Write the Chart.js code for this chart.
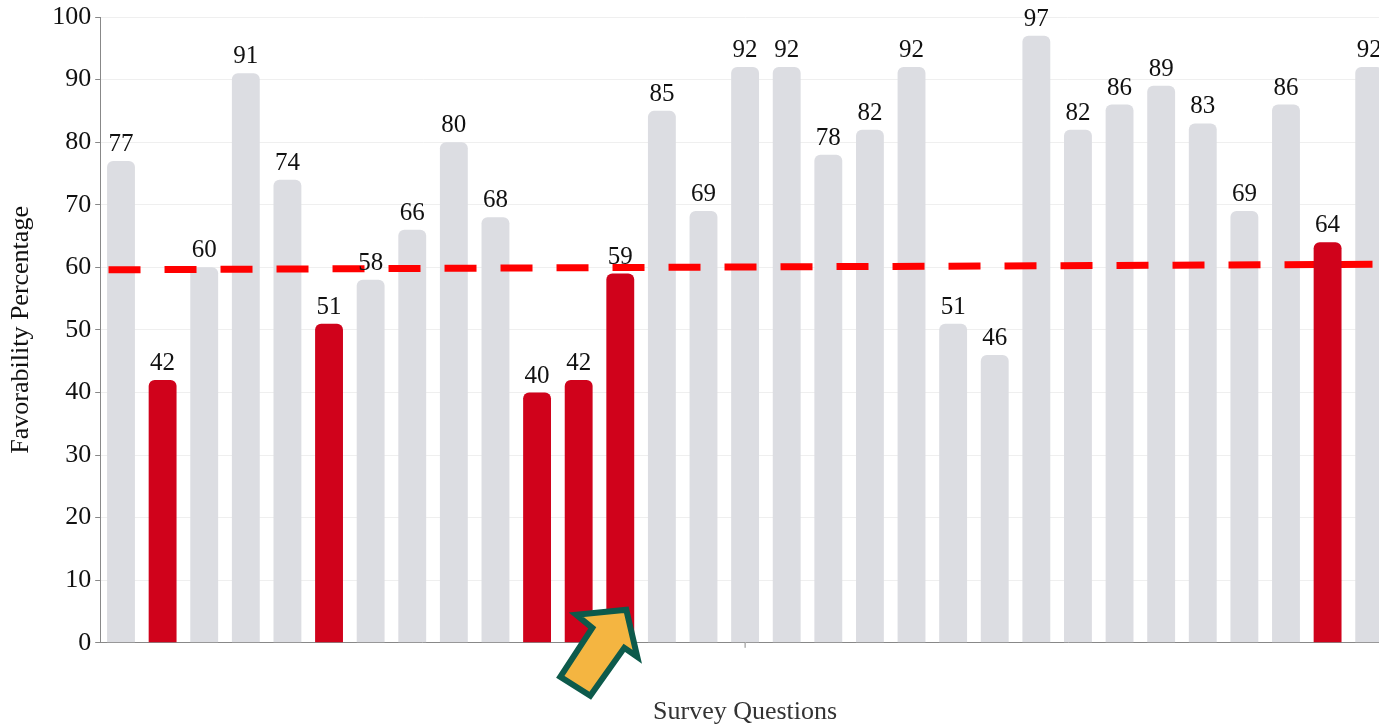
<!DOCTYPE html>
<html>
<head>
<meta charset="utf-8">
<script src="https://cdn.jsdelivr.net/npm/chart.js@4.4.1/dist/chart.umd.min.js"></script>
<style>
  html, body { margin: 0; padding: 0; background: #fff; overflow: hidden; }
  #wrap { width: 1400px; height: 728px; position: relative; }
</style>
</head>
<body>
<div id="wrap"><canvas id="myChart"></canvas></div>
<script>
// survey question scores (favorability %)
const questions = ['Q1','Q2','Q3','Q4','Q5','Q6','Q7','Q8','Q9','Q10','Q11','Q12','Q13','Q14','Q15','Q16',
                   'Q17','Q18','Q19','Q20','Q21','Q22','Q23','Q24','Q25','Q26','Q27','Q28','Q29','Q30','Q31'];
const scores = [77, 42, 60, 91, 74, 51, 58, 66, 80, 68, 40, 42, 59, 85, 69, 92,
                92, 78, 82, 92, 51, 46, 97, 82, 86, 89, 83, 69, 86, 64, 92];
// 1 = highlighted in red
const flagged = [0, 1, 0, 0, 0, 1, 0, 0, 0, 0, 1, 1, 1, 0, 0, 0,
                 0, 0, 0, 0, 0, 0, 0, 0, 0, 0, 0, 0, 0, 1, 0];
// dashed benchmark line (position along the questions, value)
const trendX = [0.2, 31];
const trendY = [59.6, 60.5];
const yTicks = [0, 10, 20, 30, 40, 50, 60, 70, 80, 90, 100];

const arrowIndex = 12; // question the arrow points to

const grayVals = scores.map((v, i) => flagged[i] ? null : v);
const redVals = scores.map((v, i) => flagged[i] ? v : null);

const serif = "'Liberation Serif', 'Times New Roman', serif";

// labels above bars + the arrow + the middle tick on the x axis
const extras = {
    id: 'extras',
    afterDatasetsDraw(chart) {
        const ctx = chart.ctx;
        ctx.save();
        ctx.font = '25px ' + serif;
        ctx.fillStyle = '#111';
        ctx.textAlign = 'center';
        ctx.textBaseline = 'bottom';
        [0, 2].forEach(di => {
            chart.getDatasetMeta(di).data.forEach((bar, i) => {
                const v = chart.data.datasets[di].data[i];
                if (v == null) return;
                ctx.fillText(v, bar.x, bar.y - 4);
            });
        });

        // little tick under the middle of the x axis
        const area = chart.chartArea;
        const mid = (area.left + area.right) / 2;
        ctx.strokeStyle = '#888';
        ctx.lineWidth = 1;
        ctx.beginPath();
        ctx.moveTo(mid, area.bottom);
        ctx.lineTo(mid, area.bottom + 5);
        ctx.stroke();

        // arrow
        const b = chart.getDatasetMeta(2).data[arrowIndex];
        const ax = b.x, ay = area.bottom;
        const pts = [[6, -33], [-44, -28], [-28, -15], [-60, 34], [-30, 53], [4, 5], [17, 14]];
        ctx.beginPath();
        pts.forEach((p, k) => k ? ctx.lineTo(ax + p[0], ay + p[1]) : ctx.moveTo(ax + p[0], ay + p[1]));
        ctx.closePath();
        ctx.fillStyle = '#f4b541';
        ctx.fill();
        ctx.lineWidth = 6;
        ctx.lineJoin = 'miter';
        ctx.strokeStyle = '#0d5a4b';
        ctx.stroke();
        ctx.restore();
    }
};

const config = {
    data: {
        labels: questions,
        datasets: [
            {
                type: 'bar',
                data: grayVals,
                backgroundColor: '#dcdde2',
                borderRadius: { topLeft: 6, topRight: 6 },
                borderSkipped: false,
                grouped: false,
                barPercentage: 0.67,
                categoryPercentage: 1,
                order: 3
            },
            {
                type: 'line',
                data: trendX.map((x, i) => ({ x: x, y: trendY[i] })),
                xAxisID: 'xt',
                borderColor: '#ff0000',
                borderWidth: 7,
                borderDash: [32, 24],
                borderCapStyle: 'butt',
                pointRadius: 0,
                fill: false,
                order: 2
            },
            {
                type: 'bar',
                data: redVals,
                backgroundColor: '#d0021b',
                borderRadius: { topLeft: 6, topRight: 6 },
                borderSkipped: false,
                grouped: false,
                barPercentage: 0.67,
                categoryPercentage: 1,
                order: 1
            }
        ]
    },
    options: {
        responsive: true,
        maintainAspectRatio: false,
        animation: false,
        layout: { padding: { left: 6, top: 0, right: 10, bottom: 0 } },
        plugins: { legend: { display: false }, tooltip: { enabled: false } },
        scales: {
            x: {
                grid: { display: false },
                border: { display: true, color: '#888' },
                ticks: { display: false },
                title: {
                    display: true,
                    text: 'Survey Questions',
                    color: '#333',
                    font: { family: serif, size: 26 },
                    padding: { top: 46, bottom: 0 }
                }
            },
            xt: {
                type: 'linear',
                display: false,
                min: 0,
                max: questions.length
            },
            y: {
                min: 0,
                max: 100,
                afterBuildTicks: axis => { axis.ticks = yTicks.map(v => ({ value: v })); },
                grid: { color: '#efefef', tickColor: '#888', tickLength: 5 },
                border: { display: true, color: '#888' },
                ticks: {
                    color: '#111',
                    padding: 4,
                    font: { family: serif, size: 26, lineHeight: 1 }
                },
                title: {
                    display: true,
                    text: 'Favorability Percentage',
                    color: '#111',
                    font: { family: serif, size: 26 },
                    padding: { top: 0, bottom: 11 }
                }
            }
        }
    },
    plugins: [extras]
};

new Chart(document.getElementById('myChart'), config);
</script>
</body>
</html>
